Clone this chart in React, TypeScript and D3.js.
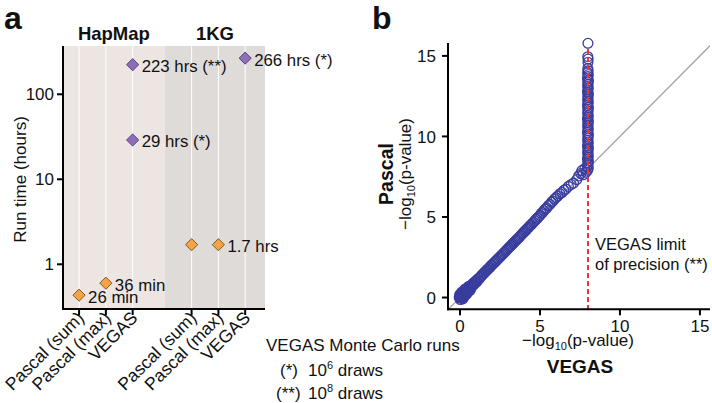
import React from 'react';
import * as d3 from 'd3';

const FONT = '"Liberation Sans", Arial, Helvetica, sans-serif';

// ---------- Panel a data ----------
const runGroups = ['HapMap', '1KG'];
const runMethods = ['Pascal (sum)', 'Pascal (max)', 'VEGAS'];
const runGroup = ['HapMap', 'HapMap', 'HapMap', 'HapMap', '1KG', '1KG', '1KG'];
const runMethod = ['Pascal (sum)', 'Pascal (max)', 'VEGAS', 'VEGAS', 'Pascal (sum)', 'Pascal (max)', 'VEGAS'];
const runHours = [26 / 60, 36 / 60, 223, 29, 1.7, 1.7, 266];
const runLabels = ['26 min', '36 min', '223 hrs (**)', '29 hrs (*)', '', '1.7 hrs', '266 hrs (*)'];
const runTicks = [1, 10, 100];

// ---------- Panel b data: [VEGAS -log10 p, Pascal -log10 p] ----------
const lowBlobPoints: [number, number][] = [
  [-0.05, 0.0], [0.02, -0.12], [-0.02, 0.18], [0.1, 0.3], [0.18, -0.08], [0.3, 0.5], [0.4, 0.25],
  [0.06, 0.22], [0.14, 0.36], [0.24, 0.1], [0.35, 0.55], [0.46, 0.3], [0.55, 0.7], [0.64, 0.45],
];
const diagonalPoints: [number, number][] = [
  [0.0, 0.02], [0.03, 0.1], [0.05, -0.04], [0.08, 0.15], [0.1, 0.05], [0.12, -0.02], [0.15, 0.22],
  [0.18, 0.1], [0.2, 0.28], [0.22, 0.12], [0.25, 0.04], [0.28, 0.3], [0.3, 0.2], [0.33, 0.38],
  [0.36, 0.26], [0.38, 0.18], [0.41, 0.45], [0.44, 0.34], [0.47, 0.52], [0.5, 0.4], [0.53, 0.6],
  [0.56, 0.48], [0.59, 0.66], [0.62, 0.56], [0.66, 0.72], [0.7, 0.64], [0.74, 0.8], [0.78, 0.72],
  [0.82, 0.88], [0.86, 0.8], [0.9, 0.95], [0.95, 0.9], [1.0, 1.04], [1.05, 0.98], [1.1, 1.14],
  [1.16, 1.12], [1.22, 1.24], [1.28, 1.26], [1.34, 1.38], [1.4, 1.4], [1.46, 1.5], [1.52, 1.52],
  [1.58, 1.62], [1.64, 1.64], [1.7, 1.74], [1.76, 1.76], [1.82, 1.86], [1.88, 1.88], [1.94, 1.98],
  [2.0, 2.02], [2.07, 2.1], [2.14, 2.16], [2.21, 2.24], [2.28, 2.3], [2.35, 2.38], [2.42, 2.44],
  [2.49, 2.52], [2.56, 2.58], [2.63, 2.66], [2.7, 2.72], [2.77, 2.8], [2.84, 2.87], [2.91, 2.94],
  [2.98, 3.02], [3.05, 3.08], [3.12, 3.16], [3.19, 3.22], [3.26, 3.3], [3.33, 3.37], [3.4, 3.44],
  [3.47, 3.52], [3.54, 3.58], [3.61, 3.66], [3.68, 3.72], [3.75, 3.8], [3.82, 3.87], [3.89, 3.95],
  [3.96, 4.02], [4.03, 4.1], [4.1, 4.16], [4.17, 4.24], [4.24, 4.31], [4.31, 4.38], [4.38, 4.46],
  [4.45, 4.52], [4.52, 4.6], [4.6, 4.68], [4.68, 4.76], [4.76, 4.86], [4.84, 4.92], [4.92, 5.02],
  [5.0, 5.1],
];
const transitionPoints: [number, number][] = [
  [5.08, 5.22], [5.16, 5.28], [5.25, 5.4], [5.34, 5.5], [5.42, 5.56], [5.52, 5.7], [5.62, 5.78],
  [5.72, 5.92], [5.8, 5.98], [5.9, 6.1], [6.0, 6.2], [6.12, 6.3], [6.25, 6.44], [6.38, 6.52],
  [6.5, 6.66], [6.62, 6.74], [6.78, 6.9], [6.95, 7.02], [7.1, 7.1], [7.3, 7.32], [7.42, 7.55],
  [7.55, 7.7], [7.7, 7.62], [7.62, 7.88], [7.8, 8.0], [7.88, 7.78],
];
const columnPoints: [number, number][] = [
  [7.98, 7.9], [8.02, 8.02], [7.96, 8.12], [8.01, 8.25], [7.99, 8.36], [8.03, 8.48], [7.97, 8.6],
  [8.0, 8.7], [8.02, 8.82], [7.98, 8.95], [8.01, 9.06], [7.99, 9.18], [8.03, 9.3], [7.97, 9.4],
  [8.0, 9.52], [8.02, 9.64], [7.98, 9.76], [8.01, 9.88], [7.99, 10.0], [8.03, 10.12], [7.97, 10.24],
  [8.0, 10.36], [8.02, 10.48], [7.98, 10.6], [8.01, 10.72], [7.99, 10.84], [8.03, 10.96],
  [7.97, 11.08], [8.0, 11.2], [8.02, 11.3], [7.98, 11.44], [8.01, 11.56], [7.99, 11.68],
  [8.03, 11.8], [7.97, 11.92], [8.0, 12.04], [8.02, 12.16], [7.98, 12.28], [8.01, 12.4],
  [7.99, 12.52], [8.03, 12.64], [7.97, 12.76], [8.0, 12.88], [8.02, 13.0], [7.98, 13.12],
  [8.01, 13.24], [7.99, 13.36], [8.03, 13.48], [7.97, 13.6], [8.0, 13.72], [8.02, 13.84],
  [7.98, 13.96], [8.01, 14.08], [7.99, 14.22], [8.0, 14.6], [8.01, 14.8], [7.99, 14.95], [8.0, 15.78],
];
const qqTicks = [0, 5, 10, 15];
const vegasLimit = 8;

export default function App() {
  // ---------------- Panel a ----------------
  const ax = d3.scaleLinear().domain([-0.6, 6.94]).range([63, 265]);
  const ay = d3.scaleLog().domain([Math.pow(10, -0.526), Math.pow(10, 2.568)]).range([309, 46]);
  const groupGap = 4.2;
  const pos = (g: string, m: string) => runGroups.indexOf(g) * groupGap + runMethods.indexOf(m);
  const diamond = d3.symbol().type(d3.symbolSquare).size(74)() as string;
  const aTop = ay.range()[1];
  const aBottom = ay.range()[0];

  const cats: { g: string; m: string }[] = [];
  runGroups.forEach((g) => runMethods.forEach((m) => cats.push({ g, m })));

  const regionBounds = [
    [ax.domain()[0], groupGap - 1],
    [groupGap - 1, ax.domain()[1]],
  ];
  const regionFill = ['#ece5e2', '#dfdbd9'];

  // ---------------- Panel b ----------------
  const bx = d3.scaleLinear().domain([-0.75, 15.63]).range([448, 710]);
  const by = d3.scaleLinear().domain([-0.73, 15.8]).range([309.3, 43]);
  const allPts = [...lowBlobPoints, ...diagonalPoints, ...transitionPoints, ...columnPoints];
  const diag = [Math.min(bx.domain()[0], by.domain()[0]), Math.max(bx.domain()[1], by.domain()[1])];

  const txt = { fontFamily: FONT, fill: '#111' } as const;

  return (
    <svg width={712} height={403} style={{ position: 'absolute', left: 0, top: 0, background: '#fff' }}>
      {/* ===== Panel a ===== */}
      <text x={4} y={29} style={{ ...txt, fontSize: 32, fontWeight: 700 }}>a</text>
      {regionBounds.map((b, i) => (
        <rect key={i} x={ax(b[0])} y={aTop} width={ax(b[1]) - ax(b[0])} height={aBottom - aTop} fill={regionFill[i]} />
      ))}
      {cats.map((c, i) => (
        <line key={i} x1={ax(pos(c.g, c.m))} x2={ax(pos(c.g, c.m))} y1={aTop} y2={aBottom} stroke="#fff" strokeWidth={1} />
      ))}
      {runGroups.map((g, i) => (
        <text key={g} x={ax((regionBounds[i][0] + regionBounds[i][1]) / 2)} y={40} textAnchor="middle"
          style={{ ...txt, fontSize: 18.5, fontWeight: 700 }}>{g}</text>
      ))}
      {runHours.map((h, i) => {
        const x = ax(pos(runGroup[i], runMethod[i]));
        const y = ay(h);
        const isV = runMethod[i] === 'VEGAS';
        return (
          <g key={i}>
            <path d={diamond} transform={`translate(${x},${y}) rotate(45)`}
              fill={isV ? '#8d6fb9' : '#f4a443'} stroke={isV ? '#4e3d78' : '#7d5420'} strokeWidth={0.9} />
            {runLabels[i] && (
              <text x={x + 9} y={y + 7.5} style={{ ...txt, fontSize: 16.8 }}>{runLabels[i]}</text>
            )}
          </g>
        );
      })}
      {/* axes a */}
      <line x1={63} x2={63} y1={aTop} y2={aBottom + 1} stroke="#000" strokeWidth={2} />
      <line x1={62} x2={265} y1={aBottom} y2={aBottom} stroke="#000" strokeWidth={2} />
      {runTicks.map((t) => (
        <g key={t}>
          <line x1={57} x2={63} y1={ay(t)} y2={ay(t)} stroke="#000" strokeWidth={2} />
          <text x={54} y={ay(t)} dy="0.36em" textAnchor="end" style={{ ...txt, fontSize: 17 }}>{t}</text>
        </g>
      ))}
      {cats.map((c, i) => {
        const x = ax(pos(c.g, c.m));
        return (
          <g key={i}>
            <line x1={x} x2={x} y1={aBottom} y2={aBottom + 6} stroke="#000" strokeWidth={2} />
            <text transform={`translate(${x + 6},${aBottom + 10}) rotate(-45)`} textAnchor="end"
              style={{ ...txt, fontSize: 17.6 }}>{c.m}</text>
          </g>
        );
      })}
      <text transform={`translate(26,${(aTop + aBottom) / 2 + 2}) rotate(-90)`} textAnchor="middle"
        style={{ ...txt, fontSize: 17 }}>Run time (hours)</text>

      {/* legend */}
      <text x={266} y={351} style={{ ...txt, fontSize: 17 }}>VEGAS Monte Carlo runs</text>
      <text x={280} y={376} style={{ ...txt, fontSize: 17 }}>(*)</text>
      <text x={308} y={376} style={{ ...txt, fontSize: 17 }}>10<tspan fontSize={11} dy={-7}>6</tspan><tspan dy={7}> draws</tspan></text>
      <text x={276} y={399} style={{ ...txt, fontSize: 17 }}>(**)</text>
      <text x={308} y={399} style={{ ...txt, fontSize: 17 }}>10<tspan fontSize={11} dy={-7}>8</tspan><tspan dy={7}> draws</tspan></text>

      {/* ===== Panel b ===== */}
      <text x={372} y={29} style={{ ...txt, fontSize: 32, fontWeight: 700 }}>b</text>
      <defs>
        <clipPath id="bclip">
          <rect x={bx.range()[0]} y={by.range()[1]} width={bx.range()[1] - bx.range()[0]} height={by.range()[0] - by.range()[1]} />
        </clipPath>
      </defs>
      <g clipPath="url(#bclip)">
        <line x1={bx(diag[0])} y1={by(diag[0])} x2={bx(diag[1])} y2={by(diag[1])} stroke="#a3a3a3" strokeWidth={1.3} />
      </g>
      {allPts.map((p, i) => (
        <circle key={i} cx={bx(p[0])} cy={by(p[1])} r={4.9} fill="none" stroke="#383d9e" strokeWidth={1.3} />
      ))}
      <line x1={bx(vegasLimit)} x2={bx(vegasLimit)} y1={by.range()[1] + 6} y2={by.range()[0]} stroke="#e0373d"
        strokeWidth={2} strokeDasharray="5,3" />
      <text x={595} y={250} style={{ ...txt, fontSize: 16.5 }}>VEGAS limit</text>
      <text x={595} y={270} style={{ ...txt, fontSize: 16.5 }}>of precision (**)</text>

      {/* axes b */}
      <line x1={448} x2={448} y1={by.range()[1]} y2={by.range()[0] + 1} stroke="#000" strokeWidth={2} />
      <line x1={447} x2={710} y1={by.range()[0]} y2={by.range()[0]} stroke="#000" strokeWidth={2} />
      {qqTicks.map((t) => (
        <g key={t}>
          <line x1={442} x2={448} y1={by(t)} y2={by(t)} stroke="#000" strokeWidth={2} />
          <text x={436} y={by(t)} dy="0.36em" textAnchor="end" style={{ ...txt, fontSize: 17 }}>{t}</text>
          <line x1={bx(t)} x2={bx(t)} y1={by.range()[0]} y2={by.range()[0] + 6} stroke="#000" strokeWidth={2} />
          <text x={bx(t)} y={332} textAnchor="middle" style={{ ...txt, fontSize: 17 }}>{t}</text>
        </g>
      ))}
      <text x={578} y={346} textAnchor="middle" style={{ ...txt, fontSize: 17 }}>
        −log<tspan fontSize={11} dy={4}>10</tspan><tspan dy={-4}>(p-value)</tspan>
      </text>
      <text x={580} y={373} textAnchor="middle" style={{ ...txt, fontSize: 19, fontWeight: 700 }}>VEGAS</text>
      <text transform={`translate(393,174) rotate(-90)`} textAnchor="middle" style={{ ...txt, fontSize: 19.5, fontWeight: 700 }}>Pascal</text>
      <text transform={`translate(411,174) rotate(-90)`} textAnchor="middle" style={{ ...txt, fontSize: 17 }}>
        −log<tspan fontSize={11} dy={4}>10</tspan><tspan dy={-4}>(p-value)</tspan>
      </text>
    </svg>
  );
}
